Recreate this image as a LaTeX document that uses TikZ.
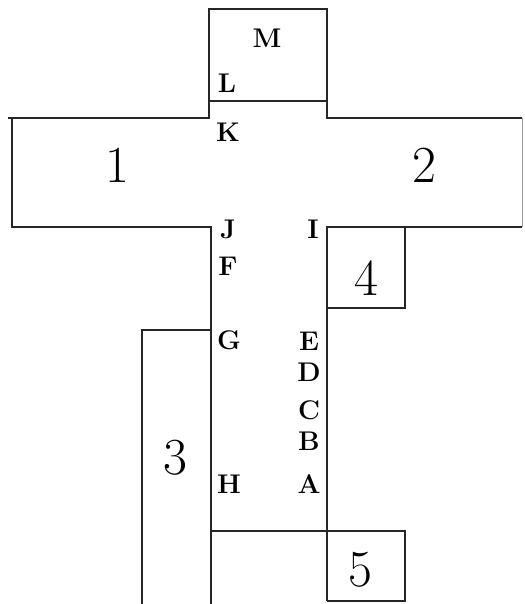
\documentclass[tikz,border=0pt]{standalone}
\usepackage{tikz}
\begin{document}
\begin{tikzpicture}[
    x=1pt, y=-1pt,
    wall/.style={draw=black!85, line width=1.4pt},
    pt/.style={font=\fontsize{27}{27}\selectfont\bfseries, inner sep=0pt},
    room/.style={font=\fontsize{52}{52}\selectfont, inner sep=0pt}
]
\useasboundingbox (0,0) rectangle (524,604);

% walls
\draw[wall] (8,118) -- (209,118) -- (209,9) -- (327,9) -- (327,118) -- (522,118);
\draw[wall] (209,101) -- (327,101);
\draw[wall] (12,118) -- (12,227) -- (211,227) -- (211,604);
\draw[wall] (522,227) -- (327,227) -- (327,601);
\draw[draw=black!40, line width=1pt] (522,118) -- (522,227);
\draw[wall] (327,308) -- (405,308) -- (405,227);
\draw[wall] (142,604) -- (142,330) -- (211,330);
\draw[wall] (211,531) -- (405,531) -- (405,601) -- (327,601);

% rooms
\node[room] (r1) at (117,165) {1};
\node[room] (r2) at (424,165) {2};
\node[room] (r3) at (175,458) {3};
\node[room] (r4) at (366,278) {4};
\node[room] (r5) at (360,570) {5};

% points
\node[pt] (M) at (267,38) {M};
\node[pt] (L) at (227,83) {L};
\node[pt] (K) at (228,132) {K};
\node[pt] (J) at (228,229) {J};
\node[pt] (I) at (313,229) {I};
\node[pt] (F) at (228,266) {F};
\node[pt] (G) at (229,340) {G};
\node[pt] (E) at (309,341) {E};
\node[pt] (D) at (309,372) {D};
\node[pt] (C) at (309,410) {C};
\node[pt] (B) at (309,441) {B};
\node[pt] (A) at (309,484) {A};
\node[pt] (H) at (229,484) {H};
\end{tikzpicture}
\end{document}
